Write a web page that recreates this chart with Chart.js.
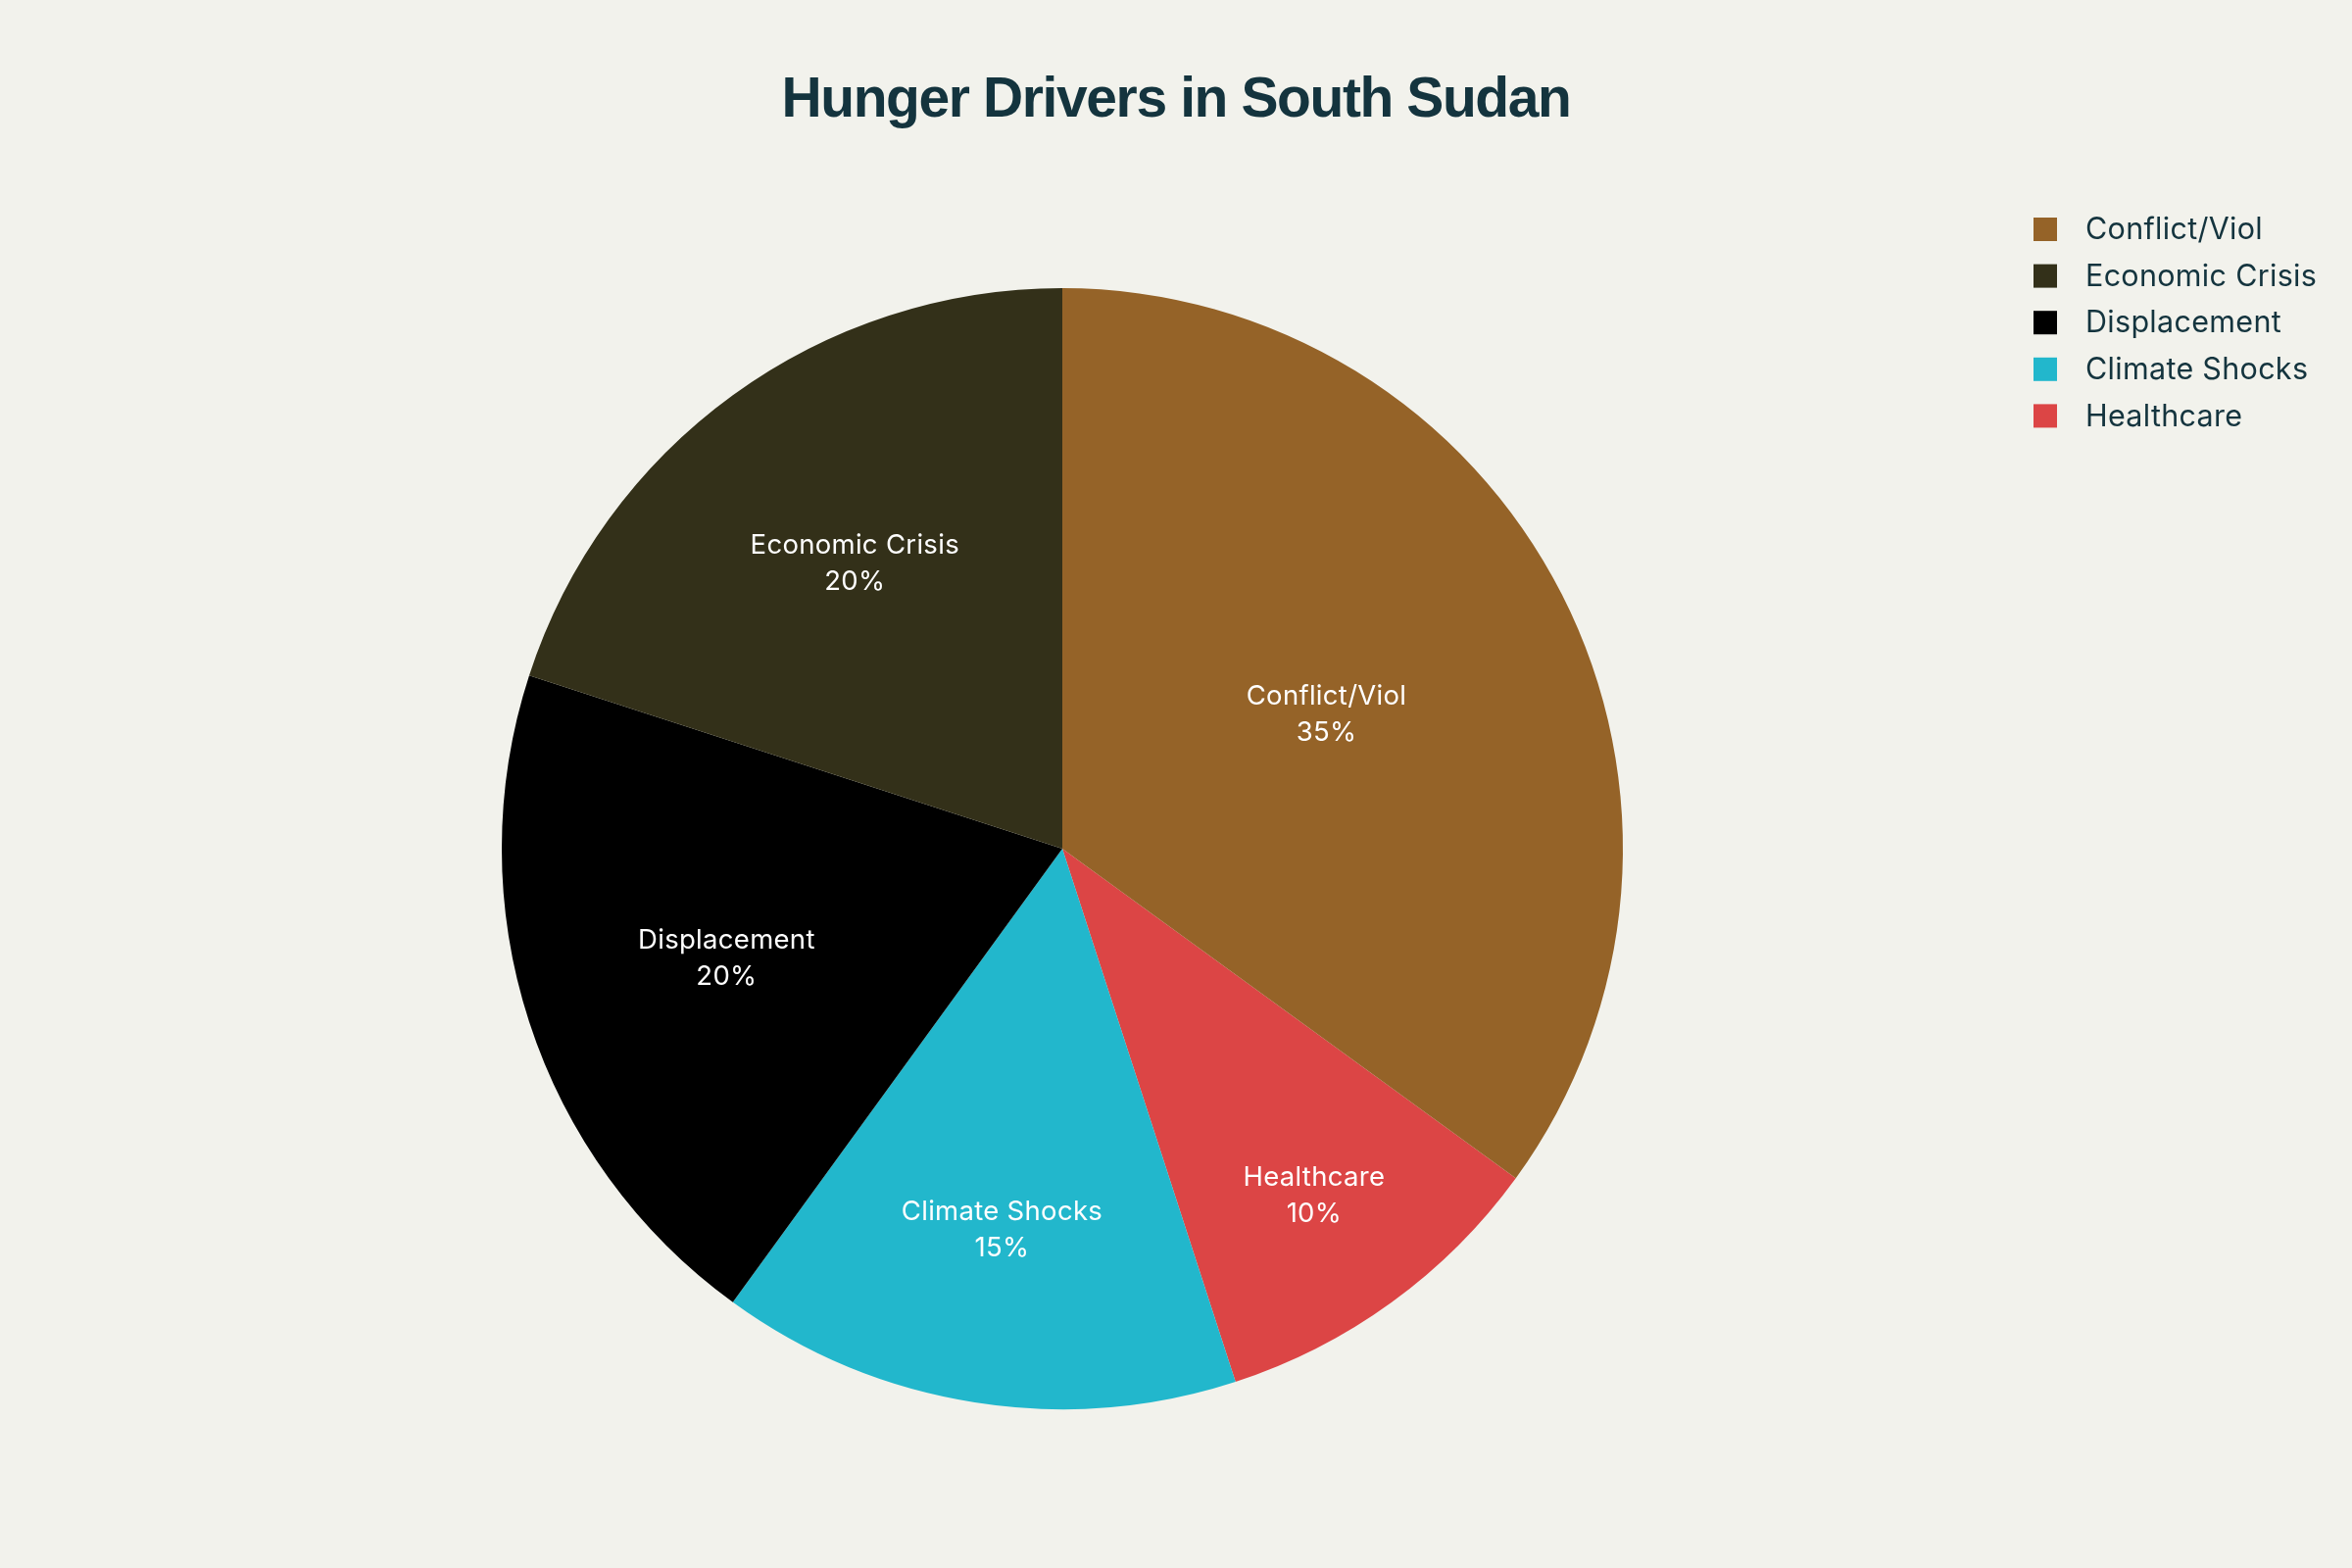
<!DOCTYPE html>
<html>
<head>
<meta charset="utf-8">
<title>Hunger Drivers in South Sudan</title>
<script src="https://cdn.jsdelivr.net/npm/chart.js@4.4.0/dist/chart.umd.min.js"></script>
<style>
  html, body { margin: 0; padding: 0; background: #f2f2ec; }
  #wrap { width: 2400px; height: 1600px; }
</style>
</head>
<body>
<div id="wrap"><canvas id="hungerchart" width="2400" height="1600"></canvas></div>
<script>
/** chart data, legend order */
const chartTitle = "Hunger Drivers in South Sudan";
const categories = ["Conflict/Viol", "Economic Crisis", "Displacement", "Climate Shocks", "Healthcare"];
const shares = [35, 20, 20, 15, 10];
const sliceColors = ["#956328", "#333019", "#000000", "#22b7cc", "#dc4545"];

const textColor = "#14343e";
const total = shares.reduce((a, b) => a + b, 0);

// slices go counter-clockwise from 12 o'clock, so feed Chart.js the reversed list
// and start it where the first slice ends
const drawLabels = categories.slice().reverse();
const drawValues = shares.slice().reverse();
const drawColors = sliceColors.slice().reverse();
const startRotation = 360 * shares[0] / total;

/** title + legend drawn on the canvas */
const titleLegendPlugin = {
    id: "titleLegend",
    afterDraw(chart) {
        const ctx = chart.ctx;
        ctx.save();
        ctx.fillStyle = textColor;
        ctx.textAlign = "center";
        ctx.textBaseline = "alphabetic";
        ctx.font = "bold 57px 'Liberation Sans', Arial, sans-serif";
        ctx.letterSpacing = "-1.4px";
        ctx.fillText(chartTitle, 1200, 119);
        ctx.letterSpacing = "0px";

        ctx.font = "30.5px Inter, 'Liberation Sans', sans-serif";
        ctx.letterSpacing = "0.3px";
        ctx.textAlign = "left";
        ctx.textBaseline = "middle";
        categories.forEach((name, i) => {
            const y = 234 + i * 47.6;
            ctx.fillStyle = sliceColors[i];
            ctx.fillRect(2075, y - 12, 24, 24);
            ctx.fillStyle = textColor;
            ctx.fillText(name, 2128, y + 1);
        });
        ctx.restore();
    }
};

/** slice labels, placed like plotly's inscribed-circle rule */
const sliceTextPlugin = {
    id: "sliceText",
    afterDatasetsDraw(chart) {
        const ctx = chart.ctx;
        const meta = chart.getDatasetMeta(0);
        ctx.save();
        ctx.fillStyle = "#ffffff";
        ctx.font = "27.5px Inter, 'Liberation Sans', sans-serif";
        ctx.letterSpacing = "0.3px";
        ctx.textAlign = "center";
        ctx.textBaseline = "middle";
        meta.data.forEach((arc, i) => {
            const p = arc.getProps(["x", "y", "startAngle", "endAngle", "outerRadius"], true);
            const half = (p.endAngle - p.startAngle) / 2;
            const mid = p.startAngle + half;
            const s = Math.sin(Math.min(half, Math.PI / 2));
            const r = p.outerRadius * (1 - s / (1 + s));
            const cx = p.x + Math.cos(mid) * r;
            const cy = p.y + Math.sin(mid) * r;
            const pct = Math.round(drawValues[i] / total * 100) + "%";
            ctx.fillText(drawLabels[i], cx, cy - 18);
            ctx.fillText(pct, cx, cy + 19);
        });
        ctx.restore();
    }
};

new Chart("hungerchart", {
    type: "pie",
    data: {
        labels: drawLabels,
        datasets: [{
            data: drawValues,
            backgroundColor: drawColors,
            borderWidth: 0
        }]
    },
    options: {
        responsive: false,
        devicePixelRatio: 1,
        animation: false,
        rotation: startRotation,
        layout: { padding: { left: 512, right: 744, top: 294, bottom: 162 } },
        plugins: {
            legend: { display: false },
            title: { display: false },
            tooltip: { enabled: false }
        }
    },
    plugins: [sliceTextPlugin, titleLegendPlugin]
});
</script>
</body>
</html>
